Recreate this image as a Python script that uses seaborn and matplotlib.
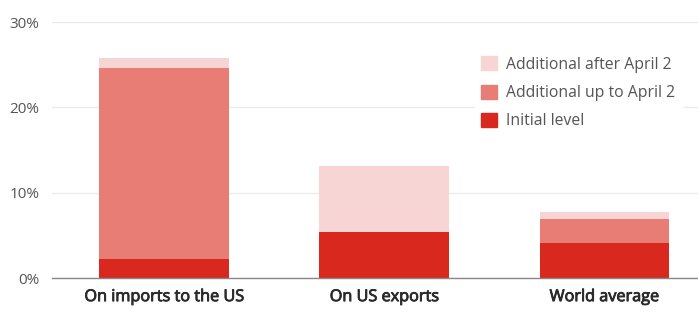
import matplotlib
matplotlib.use("Agg")
import matplotlib.pyplot as plt
import matplotlib.patheffects as pe
import seaborn as sns
import pandas as pd
from matplotlib.patches import Patch

categories = ["On imports to the US", "On US exports", "World average"]
initial_level = [2.2, 5.4, 4.1]
additional_up_to_april2 = [22.4, 0.0, 2.8]
additional_after_april2 = [1.2, 7.7, 0.8]
tick_values = [0, 10, 20, 30]
tick_labels = ["0%", "10%", "20%", "30%"]

c_initial = "#D9281E"
c_mid = "#E87D75"
c_light = "#F8D5D5"

sns.set_style("white")
plt.rcParams["font.family"] = ["Open Sans", "DejaVu Sans"]

df = pd.DataFrame({
    "cat": categories,
    "initial": initial_level,
    "mid": additional_up_to_april2,
    "light": additional_after_april2,
})
df["lvl2"] = df["initial"] + df["mid"]
df["lvl3"] = df["lvl2"] + df["light"]

fig = plt.figure(figsize=(6.98, 3.13), dpi=100)
ax = fig.add_axes([52 / 698, 1 - 278 / 313, (698 - 52) / 698, (278 - 22) / 313])

for col, color in [("lvl3", c_light), ("lvl2", c_mid), ("initial", c_initial)]:
    sns.barplot(data=df, x="cat", y=col, color=color, width=0.59, ax=ax,
                saturation=1, linewidth=0, zorder=3)

ax.set_xlim(-0.51, 2.425)
ax.set_ylim(0, 30)
ax.set_yticks(tick_values)
ax.set_yticklabels(tick_labels, fontsize=11, color="#555555")
ax.tick_params(axis="y", length=0, pad=9)
ax.tick_params(axis="x", length=0, pad=8, labelsize=11.7, labelcolor="#2a2a2a")
for lbl in ax.get_xticklabels():
    lbl.set_path_effects([pe.withStroke(linewidth=0.6, foreground="#2a2a2a")])
ax.set_xlabel("")
ax.set_ylabel("")
ax.grid(axis="y", color="#EBEBEB", linewidth=1, zorder=0)
for s in ["top", "right", "left"]:
    ax.spines[s].set_visible(False)
ax.spines["bottom"].set_color("#888888")
ax.spines["bottom"].set_linewidth(1)
ax.spines["bottom"].set_zorder(4)

handles = [Patch(color=c_light, label="Additional after April 2"),
           Patch(color=c_mid, label="Additional up to April 2"),
           Patch(color=c_initial, label="Initial level")]
leg = fig.legend(handles=handles, loc="upper left", bbox_to_anchor=(467 / 698, 1 - 42 / 313),
                 frameon=True, fancybox=False, edgecolor="white", facecolor="white",
                 framealpha=1, fontsize=11.3, handlelength=1.0, handleheight=1.0,
                 handletextpad=0.6, labelspacing=0.77, borderpad=0.4)
for t in leg.get_texts():
    t.set_color("#555555")

fig.savefig("out.png", dpi=100)
